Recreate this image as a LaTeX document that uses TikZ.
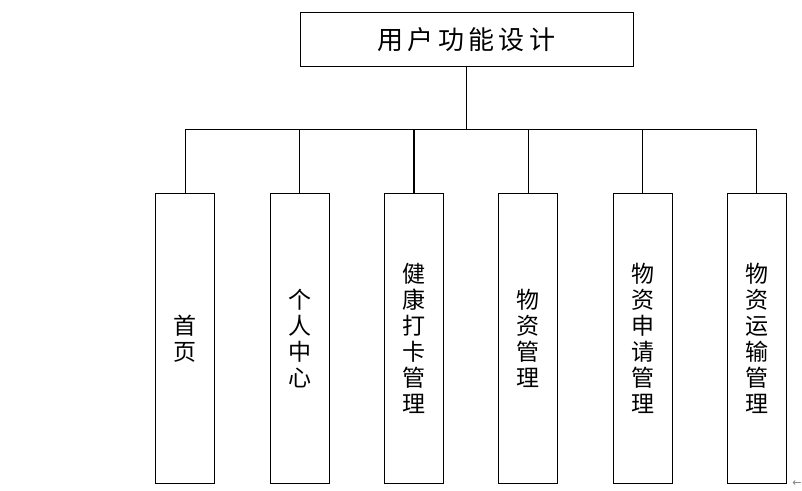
\documentclass[tikz,border=0pt]{standalone}
\usepackage{fontspec}
\newfontfamily\cjk{Noto Sans CJK SC}
\newfontfamily\symfont{DejaVu Sans}
\begin{document}
\begin{tikzpicture}[x=1pt,y=-1pt,
  line/.style={draw=black,line width=1.3pt},
  topbox/.style={draw=black,line width=1pt,minimum width=333pt,minimum height=53.5pt,inner sep=0pt,font=\cjk\fontsize{26}{28}\selectfont},
  childbox/.style={draw=black,line width=1pt,minimum width=59pt,minimum height=290pt,inner sep=0pt,align=center,font=\cjk\fontsize{23}{26}\selectfont}]
\useasboundingbox (0,0) rectangle (802,490);
\node[topbox] (top) at (466.5,39.3) {用\,户\,功\,能\,设\,计};
\node[childbox] (b1) at (185.3,338.3) {首\\页};
\node[childbox] (b2) at (299.6,338.3) {个\\人\\中\\心};
\node[childbox] (b3) at (413.9,338.3) {健\\康\\打\\卡\\管\\理};
\node[childbox] (b4) at (528.2,338.3) {物\\资\\管\\理};
\node[childbox] (b5) at (642.5,338.3) {物\\资\\申\\请\\管\\理};
\node[childbox] (b6) at (756.8,338.3) {物\\资\\运\\输\\管\\理};
\coordinate (j) at (466.5,129.5);
\draw[line] (top.south) -- (j);
\draw[line] (b1.north) |- (j) -| (b6.north);
\foreach \b in {b2,b3,b4,b5} \draw[line] (\b.north) -- (\b.north |- j);
\node[text=gray,inner sep=0pt,font=\symfont\fontsize{11}{11}\selectfont] (arr) at (797,484) {←};
\end{tikzpicture}
\end{document}
